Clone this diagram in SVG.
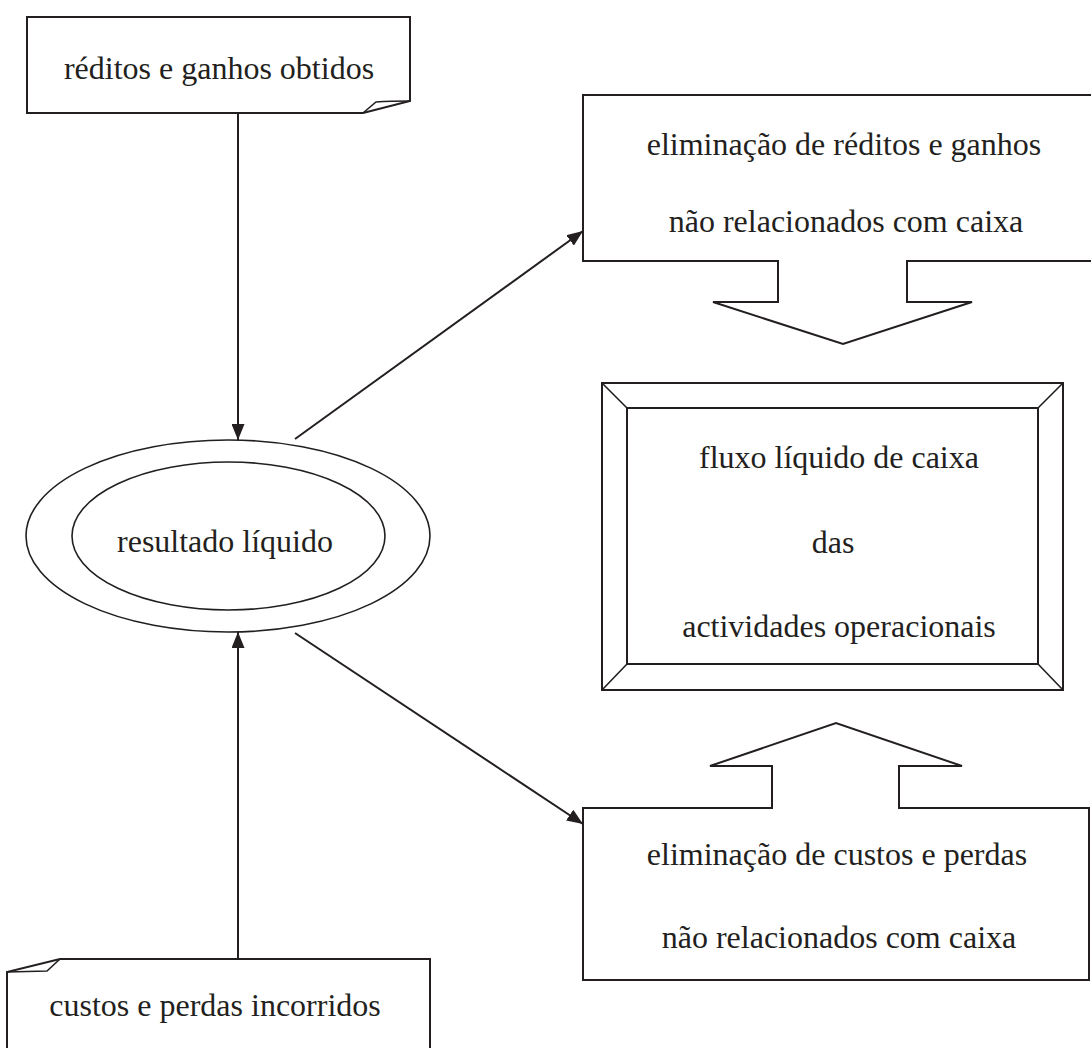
<svg xmlns="http://www.w3.org/2000/svg" width="1091" height="1048" viewBox="0 0 1091 1048">
<style>
.shape{fill:#fff;stroke:#231f20;stroke-width:2;stroke-linejoin:miter}
.thin{fill:none;stroke:#231f20;stroke-width:1.6}
.conn{fill:none;stroke:#231f20;stroke-width:2}
text{font-family:"Liberation Serif","Times New Roman",serif;font-size:32px;fill:#231f20;text-anchor:middle}
</style>
<defs>
<marker id="ah" markerUnits="userSpaceOnUse" markerWidth="17" markerHeight="13" refX="16" refY="6.5" orient="auto">
<path d="M0,0 L16,6.5 L0,13 Z" fill="#231f20"/>
</marker>
</defs>
<rect width="1091" height="1048" fill="#fff"/>
<g id="reditos">
<path class="shape" d="M27,17 H410 V101 L363,113 H27 Z"/>
<path class="thin" d="M363,113 L376,102 Q390,101 410,101"/>
<text x="219" y="79">réditos e ganhos obtidos</text>
</g>
<g id="custos">
<path class="shape" d="M60,959 H430 V1052 H7 V972 Z"/>
<path class="thin" d="M7,972 L47,971 L60,959"/>
<text x="215" y="1016">custos e perdas incorridos</text>
</g>
<g id="resultado">
<ellipse class="thin" cx="228" cy="536" rx="202" ry="96"/>
<ellipse class="thin" cx="228.5" cy="536" rx="156.5" ry="74"/>
<text x="225" y="552">resultado líquido</text>
</g>
<g id="elim-reditos">
<path class="shape" d="M583,95 H1095 V261 H907 V302 H972 L843,344 L713,302 H778 V261 H583 Z"/>
<text x="844" y="155">eliminação de réditos e ganhos</text>
<text x="846" y="232">não relacionados com caixa</text>
</g>
<g id="fluxo">
<rect class="shape" x="602" y="383" width="461" height="307"/>
<rect class="shape" x="627" y="408" width="411" height="256"/>
<path class="thin" d="M602,383 L627,408 M1063,383 L1038,408 M602,690 L627,664 M1063,690 L1038,664"/>
<text x="839" y="468">fluxo líquido de caixa</text>
<text x="833" y="553">das</text>
<text x="839" y="637">actividades operacionais</text>
</g>
<g id="elim-custos">
<path class="shape" d="M583,808 H772 V766 H710 L836,723 L962,766 H899 V808 H1089 V980 H583 Z"/>
<text x="837" y="865">eliminação de custos e perdas</text>
<text x="839" y="948">não relacionados com caixa</text>
</g>
<g id="connectors">
<line class="conn" x1="238" y1="113" x2="238" y2="440" marker-end="url(#ah)"/>
<line class="conn" x1="238" y1="959" x2="238" y2="632" marker-end="url(#ah)"/>
<line class="conn" x1="295" y1="439" x2="583" y2="231" marker-end="url(#ah)"/>
<line class="conn" x1="295" y1="633" x2="583" y2="824" marker-end="url(#ah)"/>
</g>
</svg>
